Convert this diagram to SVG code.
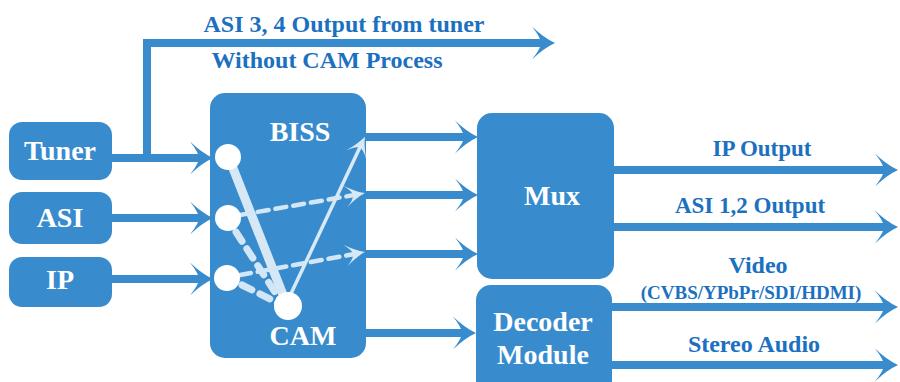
<svg xmlns="http://www.w3.org/2000/svg" width="900" height="382" viewBox="0 0 900 382">
<style>
.box{fill:#388ccd}
.btxt{font-family:"Liberation Serif","Times New Roman",serif;font-weight:bold;font-size:28px;fill:#ffffff;text-anchor:middle}
.lbl{font-family:"Liberation Serif","Times New Roman",serif;font-weight:bold;font-size:24px;fill:#1b70bf;text-anchor:middle}
.wire{fill:none;stroke:#388ccd;stroke-width:8;marker-end:url(#ah)}
.dash{fill:none;stroke:#d3e6f5;stroke-width:4.5;stroke-dasharray:11 7;stroke-linecap:round}
.dashw{fill:none;stroke:#d3e6f5;stroke-width:7;stroke-dasharray:11 9;stroke-linecap:round}
.knob{fill:#ffffff}
</style>
<defs>
<marker id="ah" markerUnits="userSpaceOnUse" viewBox="-25 -18 26 36" markerWidth="26" markerHeight="36" refX="-12" refY="0" orient="auto">
<path d="M0,0 Q-11,-5 -23,-16.5 Q-14,-5 -14,0 Q-14,5 -23,16.5 Q-11,5 0,0 Z" fill="#388ccd"/>
</marker>
<marker id="ahl" markerUnits="userSpaceOnUse" viewBox="-22 -13 23 26" markerWidth="23" markerHeight="26" refX="-8" refY="0" orient="auto">
<path d="M0,0 Q-9,-3 -20,-11 Q-12,-4 -12,0 Q-12,4 -20,11 Q-9,3 0,0 Z" fill="#d8e9f6"/>
</marker>
</defs>

<g id="tuner"><rect class="box" x="9" y="122" width="103" height="58" rx="13"/><text class="btxt" x="60" y="160">Tuner</text></g>
<g id="asi"><rect class="box" x="9" y="192" width="103" height="52" rx="13"/><text class="btxt" x="60" y="227">ASI</text></g>
<g id="ip"><rect class="box" x="9" y="257" width="103" height="50" rx="13"/><text class="btxt" x="60" y="289">IP</text></g>
<g id="mux"><rect class="box" x="477" y="113" width="137" height="166" rx="15"/><text class="btxt" x="552" y="205">Mux</text></g>
<g id="decoder"><rect class="box" x="476" y="285" width="136" height="110" rx="15"/><text class="btxt" x="543" y="331">Decoder</text><text class="btxt" x="543" y="364">Module</text></g>

<g id="biss">
<rect class="box" x="210" y="93" width="156" height="265" rx="15"/>
<text class="btxt" x="300" y="141">BISS</text>
<text class="btxt" x="303" y="345">CAM</text>
<line x1="229" y1="158" x2="287" y2="305" stroke="#d6e8f5" stroke-width="9"/>
<line x1="236" y1="232" x2="282" y2="303" class="dashw"/>
<line x1="242" y1="285" x2="280" y2="304" class="dashw"/>
<line x1="240" y1="215" x2="357" y2="194.5" class="dash" marker-end="url(#ahl)"/>
<line x1="240" y1="275" x2="357" y2="253.5" class="dash" marker-end="url(#ahl)"/>
<line x1="288" y1="300" x2="361.5" y2="144" stroke="#d8e9f6" stroke-width="3.5" marker-end="url(#ahl)"/>
<circle class="knob" cx="228" cy="157" r="13"/>
<circle class="knob" cx="228" cy="218" r="13"/>
<circle class="knob" cx="227" cy="278" r="13"/>
<circle class="knob" cx="288" cy="306" r="14"/>
</g>

<g id="connectors">
<path class="wire" d="M111,158 H201"/>
<path class="wire" d="M147,158 V43 H543" stroke-linejoin="miter"/>
<path class="wire" d="M111,218 H201"/>
<path class="wire" d="M111,279 H201"/>
<path class="wire" d="M366,137 H466"/>
<path class="wire" d="M366,195 H466"/>
<path class="wire" d="M366,254 H466"/>
<path class="wire" d="M366,333 H464"/>
<path class="wire" d="M614,170 H886"/>
<path class="wire" d="M614,227 H886"/>
<path class="wire" d="M612,307 H886"/>
<path class="wire" d="M612,365 H886"/>
</g>

<g id="labels">
<text class="lbl" x="344" y="32">ASI 3, 4 Output from tuner</text>
<text class="lbl" x="327" y="68">Without CAM Process</text>
<text class="lbl" x="762" y="156" style="font-size:23px">IP Output</text>
<text class="lbl" x="750" y="213" style="font-size:23px">ASI 1,2 Output</text>
<text class="lbl" x="758" y="273">Video</text>
<text class="lbl" x="751" y="299" style="font-size:19px">(CVBS/YPbPr/SDI/HDMI)</text>
<text class="lbl" x="754" y="352">Stereo Audio</text>
</g>
</svg>
